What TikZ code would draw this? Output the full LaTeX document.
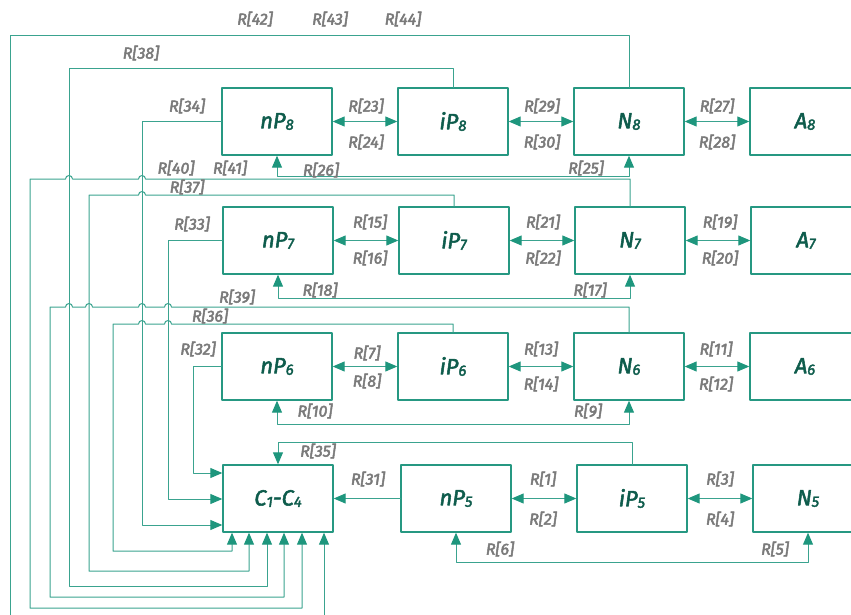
\documentclass[tikz,border=0pt]{standalone}
\usepackage{fontspec}
\setmainfont{Fira Sans}
\newfontfamily\boxfont{Fira Sans}[FakeBold=2.4]
\newfontfamily\labfont{Fira Sans}[FakeBold=3.0]
\usetikzlibrary{arrows.meta}

\definecolor{boxline}{RGB}{38,152,130}
\definecolor{wireline}{RGB}{58,163,143}
\definecolor{tipfill}{RGB}{30,150,125}
\definecolor{boxtext}{RGB}{14,92,76}
\definecolor{labtext}{RGB}{122,122,122}

\newcommand{\lowdigit}[1]{\raisebox{-1.5pt}{\fontsize{15pt}{15pt}\selectfont #1}}

\begin{document}
\begin{tikzpicture}[
						x=1pt, y=1pt,
						line cap=round,
						line join=round,
						blk/.style={draw=boxline, line width=1.4pt, minimum width=110pt, minimum height=67pt, inner sep=0pt, text=boxtext, font=\boxfont\fontsize{22pt}{22pt}\selectfont\itshape},
						rlab/.style={text=labtext, inner sep=0pt, font=\labfont\fontsize{16pt}{16pt}\selectfont\itshape},
						wire/.style={draw=wireline, line width=1pt},
						arrowin/.style={-{Triangle[length=12pt,width=10pt,color=tipfill]}},
						biarrow/.style={{Triangle[length=12pt,width=10pt,color=tipfill]}-{Triangle[length=12pt,width=10pt,color=tipfill]}}
						]
						
						\useasboundingbox (0,0) rectangle (851,-615);
						\clip (0,0) rectangle (851,-615);
						
						% Row 8
						\node[blk] (nP8) at (277,-121.5) {nP\lowdigit{8}};
						\node[blk] (iP8) at (453,-121.5) {iP\lowdigit{8}};
						\node[blk] (N8) at (629,-121.5) {N\lowdigit{8}};
						\node[blk] (A8) at (805,-121.5) {A\lowdigit{8}};
						
						% Row 7
						\node[blk] (nP7) at (278,-240.5) {nP\lowdigit{7}};
						\node[blk] (iP7) at (454,-240.5) {iP\lowdigit{7}};
						\node[blk] (N7) at (630,-240.5) {N\lowdigit{7}};
						\node[blk] (A7) at (806,-240.5) {A\lowdigit{7}};
						
						% Row 6
						\node[blk] (nP6) at (277,-366.5) {nP\lowdigit{6}};
						\node[blk] (iP6) at (453,-366.5) {iP\lowdigit{6}};
						\node[blk] (N6) at (629,-366.5) {N\lowdigit{6}};
						\node[blk] (A6) at (805,-366.5) {A\lowdigit{6}};
						
						% Row 5 and the collector
						\node[blk] (C) at (278,-498.5) {C\lowdigit{1}-C\lowdigit{4}};
						\node[blk] (nP5) at (456,-498.5) {nP\lowdigit{5}};
						\node[blk] (iP5) at (632,-498.5) {iP\lowdigit{5}};
						\node[blk] (N5) at (808,-498.5) {N\lowdigit{5}};
						
						% Links inside the rows
						\draw[wire,biarrow] (nP8) -- (iP8);
						\draw[wire,biarrow] (iP8) -- (N8);
						\draw[wire,biarrow] (N8) -- (A8);
						\draw[wire,biarrow] (nP7) -- (iP7);
						\draw[wire,biarrow] (iP7) -- (N7);
						\draw[wire,biarrow] (N7) -- (A7);
						\draw[wire,biarrow] (nP6) -- (iP6);
						\draw[wire,biarrow] (iP6) -- (N6);
						\draw[wire,biarrow] (N6) -- (A6);
						\draw[wire,biarrow] (nP5) -- (iP5);
						\draw[wire,biarrow] (iP5) -- (N5);
						
						% Loops under the rows
						\draw[wire,biarrow] (nP8.south) -- ++(0,-21) -| (N8.south);
						\draw[wire,biarrow] (nP7.south) -- ++(0,-24) -| (N7.south);
						\draw[wire,biarrow] (nP6.south) -- ++(0,-24) -| (N6.south);
						\draw[wire,biarrow] (nP5.south) -- ++(0,-30) -| (N5.south);
						
						% Feeds into the collector
						\draw[wire,arrowin] (nP5) -- (C);
						\draw[wire,arrowin] (iP5.north) -- ++(0,22) -| (C.north);
						\draw[wire,arrowin] (nP8.west) -| (142,-525) -- ([yshift=-26.5pt]C.west);
						\draw[wire,arrowin] (nP7.west) -| (168,-499) -- ([yshift=-0.5pt]C.west);
						\draw[wire,arrowin] (nP6.west) -| (193,-473) -- ([yshift=25.5pt]C.west);
						
						% Outer returns (with hops)
						\draw[wire,arrowin] (N8.north) |- (10,-36) -- (10,-640) -| ([xshift=46pt]C.south);
						\draw[wire,arrowin] (iP8.north) |- (69,-69) -- (69,-586) -| ([xshift=-11pt]C.south);
						\draw[wire,arrowin] (N7.north) |- (145.5,-179) arc (0:180:3.5) -- (72.5,-179) arc (0:180:3.5) -- (30,-179) -- (30,-608) -| ([xshift=24pt]C.south);
						\draw[wire,arrowin] (iP7.north) |- (145.5,-195) arc (0:180:3.5) -- (89,-195) -- (89,-571) -| ([xshift=-29pt]C.south);
						\draw[wire,arrowin] (N6.north) |- (171.5,-307) arc (0:180:3.5) -- (145.5,-307) arc (0:180:3.5) -- (92.5,-307) arc (0:180:3.5) -- (72.5,-307) arc (0:180:3.5) -- (50,-307) -- (50,-597) -| ([xshift=6pt]C.south);
						\draw[wire,arrowin] (iP6.north) |- (171.5,-324) arc (0:180:3.5) -- (145.5,-324) arc (0:180:3.5) -- (113,-324) -- (113,-551) -| ([xshift=-46pt]C.south);
						
						% Rate labels
						\foreach \n/\x/\y in {42/255/19, 43/330/19, 44/403/19, 38/141/53,
							34/187/106, 23/366/106, 24/366/142, 29/542/106, 30/542/142, 27/717/106, 28/717/142,
							40/176/168, 41/230/168, 26/321/170, 25/586/168, 37/187/187,
							33/192/224, 15/370/222, 16/370/258, 21/543/222, 22/543/258, 19/720/222, 20/720/258,
							18/320/290, 17/590/290, 39/237/297, 36/210/316,
							32/198/349, 7/367/353, 8/367/381, 13/541/349, 14/541/384, 11/716/349, 12/716/384,
							10/315/411, 9/588/411, 35/318/451, 31/368/479,
							1/543/479, 2/543/519, 3/720/479, 4/720/519, 6/500/549, 5/775/549}
							\node[rlab] (r\n) at (\x,-\y) {R[\n]};
						
					\end{tikzpicture}
\end{document}
